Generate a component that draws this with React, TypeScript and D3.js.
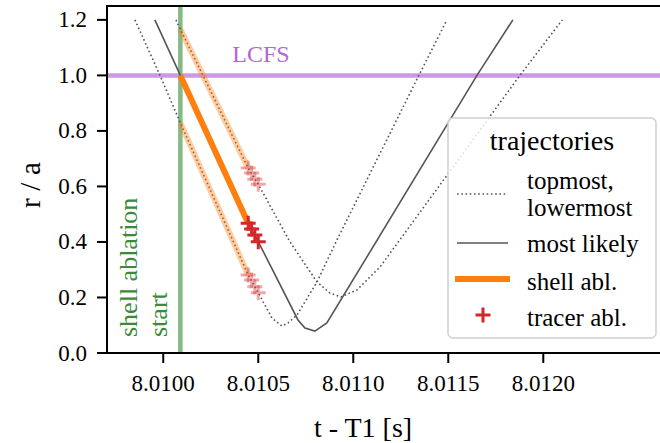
import React, { useEffect, useRef } from 'react'
import * as d3 from 'd3'

// trajectory data: time (s) and r/a
const likelyT = [8.009956, 8.01009, 8.010447, 8.0105, 8.010709, 8.010746, 8.010798, 8.010861, 8.011651, 8.01184]
const likelyR = [1.2, 1.0, 0.467, 0.401, 0.119, 0.09, 0.079, 0.108, 1.0, 1.2]

const topT = [8.010067, 8.01009, 8.010209, 8.010447, 8.0105, 8.010667, 8.010809, 8.010877, 8.010935, 8.011019, 8.011141, 8.011877, 8.0121]
const topR = [1.2, 1.166, 1.0, 0.666, 0.608, 0.4, 0.256, 0.216, 0.202, 0.227, 0.31, 1.0, 1.2]

const lowT = [8.009851, 8.009983, 8.01009, 8.010447, 8.0105, 8.010572, 8.010625, 8.010656, 8.010704, 8.010809, 8.010914, 8.011345, 8.011493]
const lowR = [1.2, 1.0, 0.829, 0.281, 0.217, 0.126, 0.097, 0.108, 0.137, 0.256, 0.407, 1.0, 1.2]

const tShell = 8.01009
const tracerT = [8.010447, 8.010465, 8.010482, 8.0105]
const tracerLikelyR = [0.467, 0.447, 0.425, 0.401]
const tracerTopR = [0.666, 0.648, 0.626, 0.608]
const tracerLowR = [0.281, 0.263, 0.239, 0.217]

const xTicks = [8.01, 8.0105, 8.011, 8.0115, 8.012]
const yTicks = [0, 0.2, 0.4, 0.6, 0.8, 1.0, 1.2]
const lcfs = 1.0

const legendItems = ['topmost,|lowermost', 'most likely', 'shell abl.', 'tracer abl.']

const W = 660
const H = 443
const FONT = '"Liberation Serif", "Times New Roman", serif'

type Pt = [number, number]
const zip = (t: number[], r: number[]): Pt[] => t.map((d, i) => [d, r[i]] as Pt)

export default function App () {
  const ref = useRef<SVGSVGElement>(null)

  useEffect(() => {
    const svg = d3.select(ref.current)
    svg.selectAll('*').remove()

    const left = 107
    const right = 661
    const top = 6
    const bottom = 353

    const x = d3.scaleLinear().domain([8.009704, 8.0126195]).range([left, right])
    const y = d3.scaleLinear().domain([0, 1.25]).range([bottom, top])

    svg.append('defs').append('clipPath').attr('id', 'plotclip')
      .append('rect').attr('x', left).attr('y', top).attr('width', right - left).attr('height', bottom - top)

    const plot = svg.append('g').attr('clip-path', 'url(#plotclip)')
    const line = d3.line<Pt>().x(d => x(d[0])).y(d => y(d[1]))

    // LCFS and shell start markers
    plot.append('line')
      .attr('x1', left).attr('x2', right).attr('y1', y(lcfs)).attr('y2', y(lcfs))
      .attr('stroke', '#cc99e5').attr('stroke-width', 4.5)
    plot.append('line')
      .attr('x1', x(tShell)).attr('x2', x(tShell)).attr('y1', top).attr('y2', bottom)
      .attr('stroke', '#85b985').attr('stroke-width', 4.5)

    const likely = zip(likelyT, likelyR)
    const topmost = zip(topT, topR)
    const lowest = zip(lowT, lowR)

    ;[topmost, lowest].forEach(pts => {
      plot.append('path').datum(pts).attr('d', line)
        .attr('fill', 'none').attr('stroke', '#555').attr('stroke-width', 1.6)
        .attr('stroke-dasharray', '1.6,2.64')
    })
    plot.append('path').datum(likely).attr('d', line)
      .attr('fill', 'none').attr('stroke', '#555').attr('stroke-width', 1.6)

    // shell ablation part: between shell start and first tracer
    const shellPart = (pts: Pt[]) => pts.filter(d => d[0] >= tShell && d[0] <= tracerT[0])
    ;[topmost, lowest].forEach(pts => {
      plot.append('path').datum(shellPart(pts)).attr('d', line)
        .attr('fill', 'none').attr('stroke', '#ff7f0e').attr('stroke-opacity', 0.4).attr('stroke-width', 6)
    })
    plot.append('path').datum(shellPart(likely)).attr('d', line)
      .attr('fill', 'none').attr('stroke', '#ff7f0e').attr('stroke-width', 6)

    const cross = (g: any, cx: number, cy: number, op: number) => {
      const s = 7.5
      g.append('path')
        .attr('d', `M${cx - s},${cy}H${cx + s}M${cx},${cy - s}V${cy + s}`)
        .attr('stroke', '#d62728').attr('stroke-width', 3).attr('stroke-opacity', op)
    }
    tracerT.forEach((t, i) => cross(plot, x(t), y(tracerTopR[i]), 0.4))
    tracerT.forEach((t, i) => cross(plot, x(t), y(tracerLowR[i]), 0.4))
    tracerT.forEach((t, i) => cross(plot, x(t), y(tracerLikelyR[i]), 1))

    // annotations
    svg.append('text').attr('x', 261).attr('y', 54).attr('text-anchor', 'middle')
      .attr('dominant-baseline', 'central').attr('fill', '#b366d6')
      .style('font-family', FONT).style('font-size', '24px').text('LCFS')
    const green = svg.append('text').attr('transform', 'translate(128,337) rotate(-90)')
      .attr('fill', '#3a8a3a').style('font-family', FONT).style('font-size', '26px')
    green.append('tspan').attr('x', 0).attr('y', 0).attr('dominant-baseline', 'central').text('shell ablation')
    green.append('tspan').attr('x', 0).attr('y', 30).attr('dominant-baseline', 'central').text('start')

    // axes frame
    const frame = svg.append('g').attr('stroke', 'black').attr('stroke-width', 2)
    frame.append('line').attr('x1', left).attr('x2', left).attr('y1', top).attr('y2', bottom + 1)
    frame.append('line').attr('x1', left - 1).attr('x2', right).attr('y1', bottom).attr('y2', bottom)
    frame.append('line').attr('x1', left - 1).attr('x2', right).attr('y1', top).attr('y2', top)

    xTicks.forEach(t => {
      frame.append('line').attr('x1', x(t)).attr('x2', x(t)).attr('y1', bottom).attr('y2', bottom + 10)
      svg.append('text').attr('x', x(t)).attr('y', 383).attr('text-anchor', 'middle')
        .attr('dominant-baseline', 'central').style('font-family', FONT).style('font-size', '23px')
        .text(d3.format('.4f')(t))
    })
    yTicks.forEach(v => {
      frame.append('line').attr('x1', left - 10).attr('x2', left).attr('y1', y(v)).attr('y2', y(v))
      svg.append('text').attr('x', 87).attr('y', y(v)).attr('text-anchor', 'end')
        .attr('dominant-baseline', 'central').style('font-family', FONT).style('font-size', '23px')
        .text(d3.format('.1f')(v))
    })

    svg.append('text').attr('x', 363).attr('y', 427).attr('text-anchor', 'middle')
      .attr('dominant-baseline', 'central').style('font-family', FONT).style('font-size', '28px')
      .text('t - T1 [s]')
    svg.append('text').attr('transform', 'translate(30,185) rotate(-90)').attr('text-anchor', 'middle')
      .attr('dominant-baseline', 'central').style('font-family', FONT).style('font-size', '29px')
      .attr('textLength', 46).attr('lengthAdjust', 'spacing')
      .text('r/a')

    // legend
    const lg = svg.append('g')
    lg.append('rect').attr('x', 448).attr('y', 118).attr('width', 208).attr('height', 220).attr('rx', 5)
      .attr('fill', 'white').attr('fill-opacity', 0.8).attr('stroke', '#d0d0d0').attr('stroke-width', 1.5)
    lg.append('text').attr('x', 552).attr('y', 140).attr('text-anchor', 'middle')
      .attr('dominant-baseline', 'central').style('font-family', FONT).style('font-size', '28px')
      .text('trajectories')
    const labelY = [[180, 207], [243], [281], [317]]
    legendItems.forEach((lab, i) => {
      lab.split('|').forEach((s, j) => {
        lg.append('text').attr('x', 527).attr('y', labelY[i][j]).attr('dominant-baseline', 'central')
          .style('font-family', FONT).style('font-size', '25px').text(s)
      })
    })
    lg.append('line').attr('x1', 457).attr('x2', 508).attr('y1', 194).attr('y2', 194)
      .attr('stroke', '#555').attr('stroke-width', 1.6).attr('stroke-dasharray', '1.6,2.64')
    lg.append('line').attr('x1', 457).attr('x2', 508).attr('y1', 243).attr('y2', 243)
      .attr('stroke', '#555').attr('stroke-width', 1.6)
    lg.append('line').attr('x1', 455).attr('x2', 510).attr('y1', 279).attr('y2', 279)
      .attr('stroke', '#ff7f0e').attr('stroke-width', 6)
    cross(lg, 483, 315, 1)
  }, [])

  return (
    <svg ref={ref} width={W} height={H}
      style={{ position: 'absolute', left: 0, top: 0, background: 'white' }} />
  )
}
